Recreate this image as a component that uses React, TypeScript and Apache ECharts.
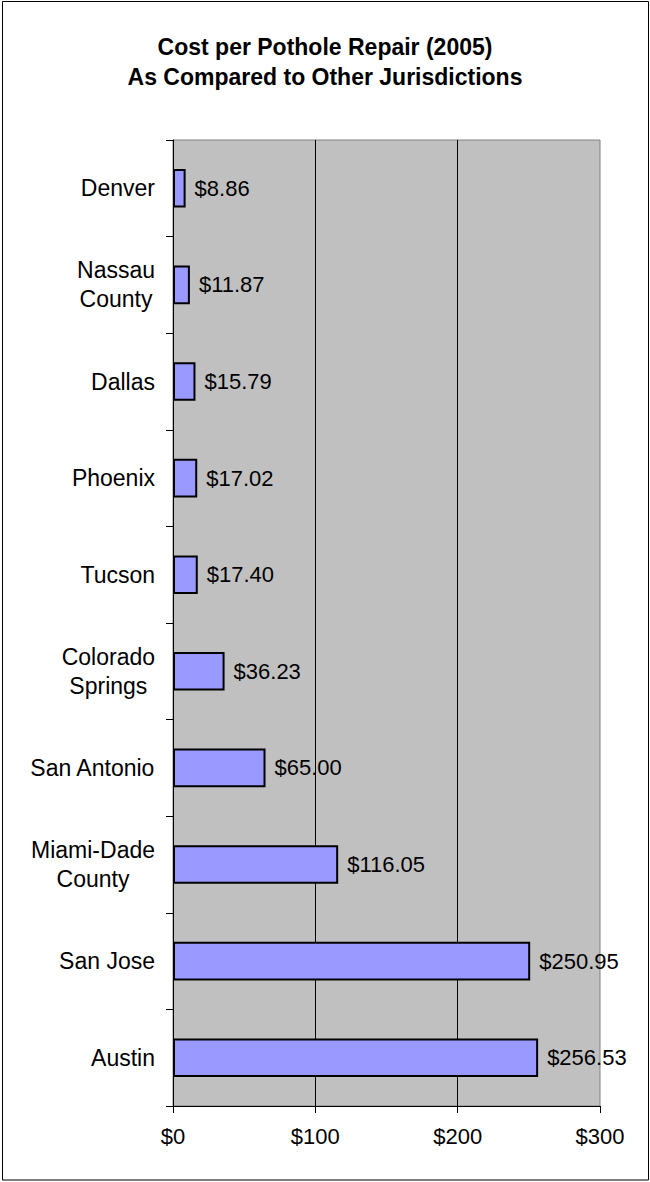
import React, { useEffect, useRef } from "react";
import * as echarts from "echarts";

const titleLines = ["Cost per Pothole Repair (2005)", "As Compared to Other Jurisdictions"];
const categories = [
  "Denver",
  "Nassau\nCounty",
  "Dallas",
  "Phoenix",
  "Tucson",
  "Colorado\nSprings",
  "San Antonio",
  "Miami-Dade\nCounty",
  "San Jose",
  "Austin",
];
const costs = [8.86, 11.87, 15.79, 17.02, 17.4, 36.23, 65.0, 116.05, 250.95, 256.53];
const axisMin = 0;
const axisMax = 300;
const axisStep = 100;

const FONT = "'Liberation Sans', Arial, sans-serif";

export default function App() {
  const ref = useRef<HTMLDivElement>(null);
  useEffect(() => {
    document.body.style.margin = "0";
    const chart = echarts.init(ref.current!, null, { renderer: "svg" });
    chart.setOption({
      animation: false,
      backgroundColor: "#ffffff",
      title: {
        text: titleLines.join("\n"),
        left: "center",
        top: 27,
        textStyle: {
          fontFamily: FONT,
          fontWeight: "bold",
          fontSize: 23,
          lineHeight: 30,
          color: "#000",
        },
      },
      graphic: [
        {
          type: "rect",
          shape: { x: 2.5, y: 1.5, width: 646, height: 1178.5 },
          style: { fill: "none", stroke: "#000", lineWidth: 1 },
          silent: true,
          z: 0,
        },
      ],
      grid: {
        left: 173,
        right: 50,
        top: 140,
        bottom: 76,
        show: true,
        backgroundColor: "#C0C0C0",
        borderColor: "#808080",
        borderWidth: 1,
        containLabel: false,
        outerBoundsMode: "none",
      },
      xAxis: {
        type: "value",
        min: axisMin,
        max: axisMax,
        interval: axisStep,
        axisLine: { show: true, lineStyle: { color: "#000", width: 1 } },
        axisTick: { show: true, length: 7, lineStyle: { color: "#000" } },
        axisLabel: {
          formatter: (v: number) => `$${v}`,
          fontFamily: FONT,
          fontSize: 22,
          color: "#000",
          margin: 19,
        },
        splitLine: {
          show: true,
          showMinLine: false,
          showMaxLine: false,
          lineStyle: { color: "#000", width: 1 },
        },
      },
      yAxis: {
        type: "category",
        data: categories,
        inverse: true,
        axisLine: { show: true, lineStyle: { color: "#000", width: 1 } },
        axisTick: { show: true, length: 7, alignWithLabel: false, lineStyle: { color: "#000" } },
        axisLabel: {
          margin: 18,
          fontFamily: FONT,
          fontSize: 23,
          color: "#000",
          formatter: (v: string) =>
            v
              .split("\n")
              .map((s) => `{c|${s}}`)
              .join("\n"),
          rich: {
            c: {
              fontFamily: FONT,
              fontSize: 23,
              lineHeight: 29,
              color: "#000",
              align: "center",
            },
          },
        },
        splitLine: { show: false },
      },
      series: [
        {
          type: "bar",
          data: costs,
          barWidth: "40%",
          itemStyle: {
            color: "#9999FF",
            borderColor: "#000",
            borderWidth: 2,
          },
          label: {
            show: true,
            position: "right",
            distance: 9,
            formatter: (p: any) => `$${Number(p.value).toFixed(2)}`,
            fontFamily: FONT,
            fontSize: 22,
            color: "#000",
          },
        },
      ],
    });
    return () => chart.dispose();
  }, []);
  return (
    <div
      ref={ref}
      style={{ position: "fixed", left: 0, top: 0, width: 650, height: 1182 }}
    />
  );
}
